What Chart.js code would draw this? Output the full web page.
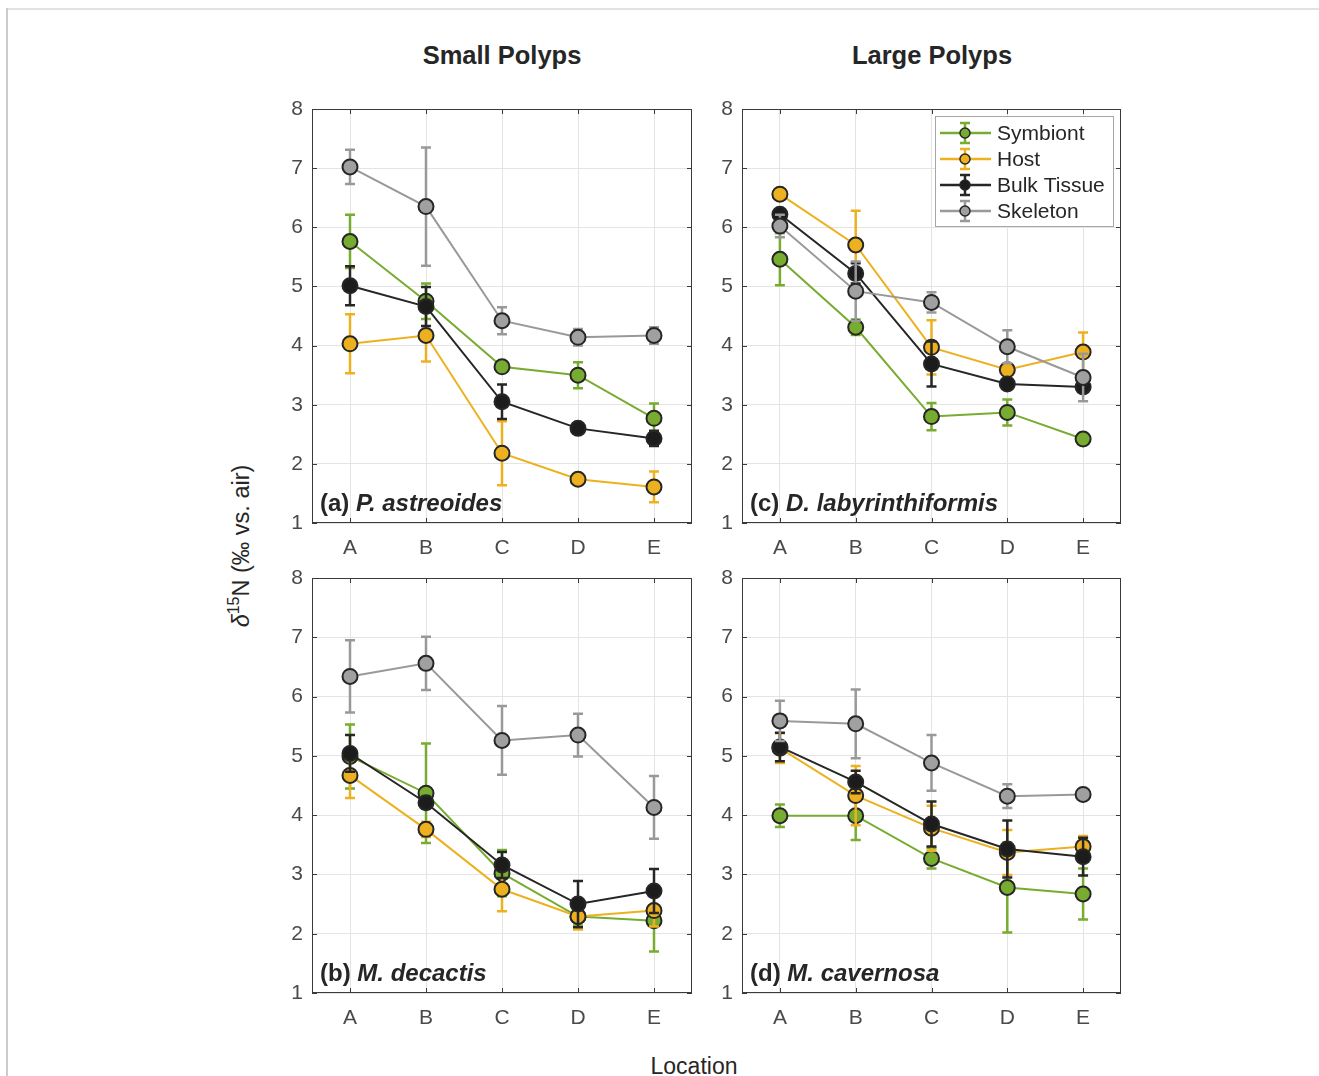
<!DOCTYPE html>
<html>
<head>
<meta charset="utf-8">
<script src="https://cdn.jsdelivr.net/npm/chart.js@4.4.1/dist/chart.umd.min.js"></script>
<style>
body { margin: 0; background: #fff; font-family: "Liberation Sans", Arial, Helvetica, sans-serif; }
#page { position: relative; width: 1319px; height: 1076px; overflow: hidden; background: #fff; }
.frame-top { position: absolute; left: 6px; top: 8px; width: 1313px; height: 2px; background: #e2e2e2; }
.frame-left { position: absolute; left: 6px; top: 8px; width: 2px; height: 1068px; background: #cccccc; }
canvas { position: absolute; }
.txt { position: absolute; line-height: 1; color: #262626; white-space: nowrap; }
.title { font-size: 25.5px; font-weight: bold; transform: translateX(-50%); }
.plabel { font-size: 24px; font-weight: bold; }
.xlabel { font-size: 23px; transform: translateX(-50%); }
.ylabel { font-size: 23.5px; transform: translate(-50%, -50%) rotate(-90deg); }
.ylabel sup { font-size: 16px; vertical-align: 10px; }
</style>
</head>
<body>
<div id="page">
  <div class="frame-top"></div>
  <div class="frame-left"></div>
  <div class="txt title" style="left:502px; top:43px;">Small Polyps</div>
  <div class="txt title" style="left:932px; top:43px;">Large Polyps</div>
  <div class="txt xlabel" style="left:694px; top:1055px;">Location</div>
  <div class="txt ylabel" style="left:240px; top:546px;"><i>δ</i><sup>15</sup>N (‰ vs. air)</div>
</div>
<script>
// valeurs, panneaux dans l'ordre (a) (b) (c) (d)
const categories = ['A', 'B', 'C', 'D', 'E'];
const yTickValues = [1, 2, 3, 4, 5, 6, 7, 8];
const panelLetters = ['(a)', '(b)', '(c)', '(d)'];
const speciesNames = ['P. astreoides', 'M. decactis', 'D. labyrinthiformis', 'M. cavernosa'];
const seriesNames = ['Symbiont', 'Host', 'Bulk Tissue', 'Skeleton'];

const symbiontMean = [
    [5.76, 4.75, 3.64, 3.50, 2.77],
    [4.99, 4.37, 3.02, 2.29, 2.22],
    [5.46, 4.31, 2.80, 2.87, 2.42],
    [3.99, 3.99, 3.27, 2.78, 2.67]
];
const symbiontErr = [
    [0.45, 0.30, 0.08, 0.22, 0.25],
    [0.54, 0.84, 0.39, 0.15, 0.52],
    [0.44, 0.13, 0.23, 0.22, 0.03],
    [0.19, 0.41, 0.17, 0.76, 0.43]
];
const hostMean = [
    [4.03, 4.17, 2.18, 1.74, 1.61],
    [4.67, 3.76, 2.75, 2.29, 2.39],
    [6.56, 5.70, 3.97, 3.59, 3.89],
    [5.13, 4.33, 3.78, 3.37, 3.47]
];
const hostErr = [
    [0.50, 0.44, 0.54, 0.06, 0.26],
    [0.38, 0.13, 0.37, 0.22, 0.27],
    [0.05, 0.58, 0.46, 0.10, 0.33],
    [0.25, 0.50, 0.38, 0.38, 0.18]
];
const bulkMean = [
    [5.01, 4.66, 3.05, 2.60, 2.43],
    [5.04, 4.21, 3.16, 2.50, 2.72],
    [6.22, 5.22, 3.69, 3.35, 3.30],
    [5.15, 4.56, 3.85, 3.43, 3.30]
];
const bulkErr = [
    [0.33, 0.33, 0.29, 0.03, 0.13],
    [0.31, 0.10, 0.22, 0.39, 0.37],
    [0.05, 0.17, 0.38, 0.05, 0.05],
    [0.24, 0.19, 0.38, 0.48, 0.32]
];
const skeletonMean = [
    [7.02, 6.35, 4.42, 4.14, 4.17],
    [6.34, 6.56, 5.26, 5.35, 4.13],
    [6.02, 4.92, 4.73, 3.98, 3.46],
    [5.59, 5.54, 4.88, 4.32, 4.35]
];
const skeletonErr = [
    [0.29, 1.00, 0.23, 0.14, 0.14],
    [0.61, 0.45, 0.58, 0.36, 0.53],
    [0.19, 0.50, 0.17, 0.28, 0.40],
    [0.34, 0.58, 0.47, 0.20, 0.05]
];

// styles (couleurs MATLAB)
const seriesColors = ['#77ac30', '#edb120', '#262626', '#999999'];
const markerFills = ['#77ac30', '#edb120', '#1c1c1c', '#a0a0a0'];
const edgeColor = '#262626';

// zones de tracé en pixels de la page
const panelBoxes = [
    { l: 312, t: 109, r: 692, b: 523 },
    { l: 312, t: 578, r: 692, b: 993 },
    { l: 742, t: 109, r: 1121, b: 523 },
    { l: 742, t: 578, r: 1121, b: 993 }
];

const fontFamily = '"Liberation Sans", Arial, Helvetica, sans-serif';
Chart.defaults.font.family = fontFamily;

// barres d'erreur dessinées juste avant chaque série
const errorBarPlugin = {
    id: 'errorBars',
    beforeDatasetDraw(chart, args) {
        const ds = chart.data.datasets[args.index];
        const yScale = chart.scales.y;
        const ctx = chart.ctx;
        ctx.save();
        ctx.strokeStyle = ds.borderColor;
        ctx.lineWidth = 2.5;
        args.meta.data.forEach((pt, i) => {
            const top = yScale.getPixelForValue(ds.data[i] + ds.errors[i]);
            const bot = yScale.getPixelForValue(ds.data[i] - ds.errors[i]);
            ctx.beginPath();
            ctx.moveTo(pt.x, top); ctx.lineTo(pt.x, bot);
            ctx.moveTo(pt.x - 5, top); ctx.lineTo(pt.x + 5, top);
            ctx.moveTo(pt.x - 5, bot); ctx.lineTo(pt.x + 5, bot);
            ctx.stroke();
        });
        ctx.restore();
    }
};

// cadre + graduations vers l'intérieur
const framePlugin = {
    id: 'axesFrame',
    afterDatasetsDraw(chart) {
        const { ctx, chartArea: a, scales } = chart;
        ctx.save();
        ctx.strokeStyle = '#3a3a3a';
        ctx.lineWidth = 1;
        ctx.strokeRect(a.left + 0.5, a.top + 0.5, a.right - a.left - 1, a.bottom - a.top - 1);
        ctx.beginPath();
        categories.forEach((c, i) => {
            const x = Math.round(scales.x.getPixelForTick(i)) + 0.5;
            ctx.moveTo(x, a.bottom); ctx.lineTo(x, a.bottom - 5);
            ctx.moveTo(x, a.top); ctx.lineTo(x, a.top + 5);
        });
        yTickValues.forEach(v => {
            const y = Math.round(scales.y.getPixelForValue(v)) + 0.5;
            ctx.moveTo(a.left, y); ctx.lineTo(a.left + 5, y);
            ctx.moveTo(a.right, y); ctx.lineTo(a.right - 5, y);
        });
        ctx.stroke();
        ctx.restore();
    }
};

// légende façon MATLAB dans le panneau (c)
const legendPlugin = {
    id: 'boxLegend',
    afterDatasetsDraw(chart) {
        const { ctx, chartArea } = chart;
        const w = 178, h = 110;
        const x0 = chartArea.right - 8 - w;
        const y0 = chartArea.top + 7;
        ctx.save();
        ctx.fillStyle = '#fff';
        ctx.fillRect(x0, y0, w, h);
        ctx.strokeStyle = '#a6a6a6';
        ctx.lineWidth = 1;
        ctx.strokeRect(x0 + 0.5, y0 + 0.5, w, h);
        seriesNames.forEach((name, s) => {
            const y = y0 + 17 + s * 26;
            const cx = x0 + 30;
            ctx.strokeStyle = seriesColors[s];
            ctx.lineWidth = 2.5;
            ctx.beginPath();
            ctx.moveTo(x0 + 5, y); ctx.lineTo(x0 + 56, y);
            ctx.moveTo(cx, y - 10); ctx.lineTo(cx, y + 10);
            ctx.moveTo(cx - 5, y - 10); ctx.lineTo(cx + 5, y - 10);
            ctx.moveTo(cx - 5, y + 10); ctx.lineTo(cx + 5, y + 10);
            ctx.stroke();
            ctx.beginPath();
            ctx.arc(cx, y, 5, 0, Math.PI * 2);
            ctx.fillStyle = markerFills[s];
            ctx.fill();
            ctx.lineWidth = 1.5;
            ctx.strokeStyle = edgeColor;
            ctx.stroke();
            ctx.fillStyle = '#262626';
            ctx.font = '21px ' + fontFamily;
            ctx.textBaseline = 'middle';
            ctx.fillText(name, x0 + 62, y + 1);
        });
        ctx.restore();
    }
};

function makePanel(p) {
    const box = panelBoxes[p];
    const page = document.getElementById('page');
    const canvas = document.createElement('canvas');
    canvas.width = box.r - box.l + 60;
    canvas.height = box.b - box.t + 80;
    canvas.style.left = (box.l - 50) + 'px';
    canvas.style.top = (box.t - 30) + 'px';
    page.appendChild(canvas);

    const label = document.createElement('div');
    label.className = 'txt plabel';
    label.style.left = (box.l + 8) + 'px';
    label.style.top = (box.b - 32) + 'px';
    label.innerHTML = panelLetters[p] + ' <i>' + speciesNames[p] + '</i>';
    page.appendChild(label);

    const means = [symbiontMean[p], hostMean[p], bulkMean[p], skeletonMean[p]];
    const errs = [symbiontErr[p], hostErr[p], bulkErr[p], skeletonErr[p]];

    const datasets = seriesNames.map((name, s) => ({
        label: name,
        data: means[s],
        errors: errs[s],
        borderColor: seriesColors[s],
        backgroundColor: markerFills[s],
        borderWidth: 2,
        pointRadius: 7.5,
        pointHoverRadius: 7.5,
        pointBorderWidth: 2,
        pointBorderColor: edgeColor,
        pointBackgroundColor: markerFills[s],
        tension: 0,
        order: 4 - s
    }));

    const plugins = [errorBarPlugin, framePlugin];
    if (p === 2) plugins.push(legendPlugin);

    new Chart(canvas.getContext('2d'), {
        type: 'line',
        data: { labels: categories, datasets: datasets },
        options: {
            responsive: false,
            animation: false,
            layout: { padding: { top: 30, right: 10, left: 0, bottom: 0 } },
            plugins: { legend: { display: false }, tooltip: { enabled: false } },
            scales: {
                x: {
                    offset: true,
                    grid: { offset: false, color: '#e4e4e4', drawTicks: false },
                    border: { display: false },
                    ticks: { color: '#4a4a4a', font: { size: 21 }, padding: 13, maxRotation: 0 },
                    afterFit(scale) { scale.height = 50; }
                },
                y: {
                    min: yTickValues[0],
                    max: yTickValues[yTickValues.length - 1],
                    grid: { color: '#e4e4e4', drawTicks: false },
                    border: { display: false },
                    ticks: { stepSize: 1, color: '#4a4a4a', font: { size: 21 }, padding: 9 },
                    afterFit(scale) { scale.width = 50; }
                }
            }
        },
        plugins: plugins
    });
}

for (let p = 0; p < 4; p++) makePanel(p);
</script>
</body>
</html>
